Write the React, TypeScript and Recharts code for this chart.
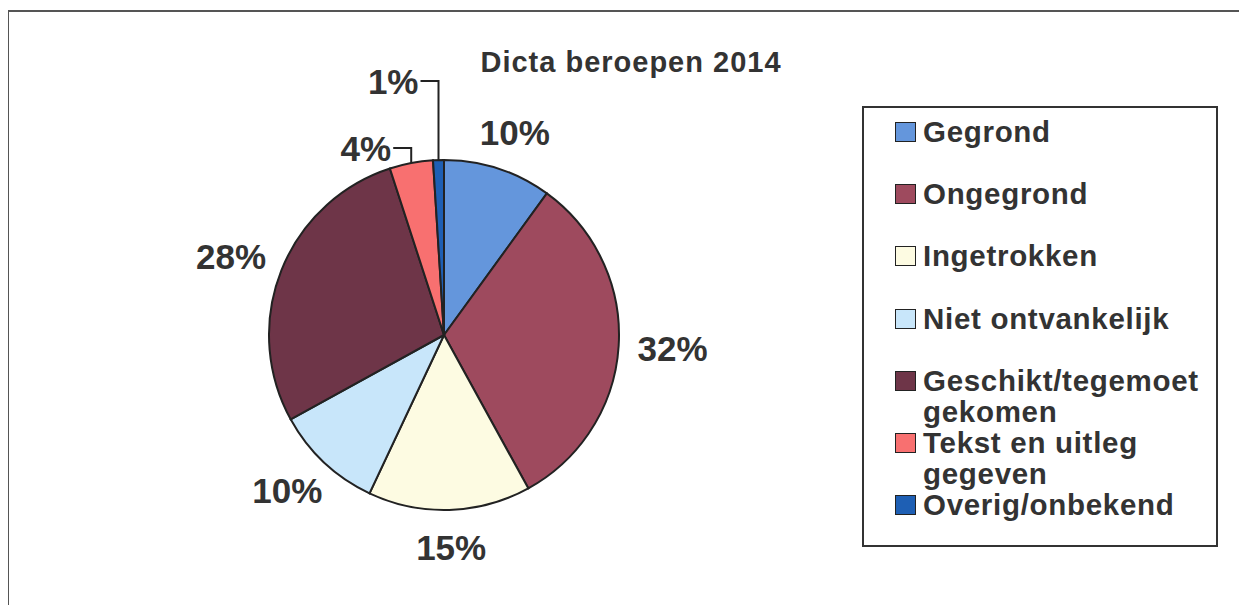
import React from 'react';
import { PieChart, Pie, Cell, Legend, Customized } from 'recharts';

const categories = [
  'Gegrond',
  'Ongegrond',
  'Ingetrokken',
  'Niet ontvankelijk',
  'Geschikt/tegemoet gekomen',
  'Tekst en uitleg gegeven',
  'Overig/onbekend',
];
const values = [10, 32, 15, 10, 28, 4, 1];
const colors = ['#6496dc', '#9e4a5e', '#fdfbe2', '#c8e6fa', '#6e3548', '#f87070', '#1e5fb4'];
const title = 'Dicta beroepen 2014';

const data = categories.map((name, i) => ({ name, value: values[i], color: colors[i] }));

const FONT = '"Liberation Sans", Arial, sans-serif';
const TEXT = '#333333';
const RAD = Math.PI / 180;

const renderLabel = (props: any) => {
  const { cx, cy, midAngle, outerRadius, value, index } = props;
  const cos = Math.cos(-midAngle * RAD);
  const sin = Math.sin(-midAngle * RAD);
  if (value < 5) {
    const ex = cx + outerRadius * cos;
    const ey = cy + outerRadius * sin;
    const rise = index === data.length - 1 ? 79 : 15;
    const ty = ey - rise;
    return (
      <g key={`lbl-${index}`}>
        <path d={`M${ex},${ey}L${ex},${ty}L${ex - 18},${ty}`} stroke="#222" strokeWidth={2} fill="none" />
        <text x={ex - 20} y={ty} textAnchor="end" dominantBaseline="central" fontFamily={FONT} fontWeight="bold" fontSize={35} fill={TEXT}>
          {`${value}%`}
        </text>
      </g>
    );
  }
  const Rx = outerRadius + 54;
  const Ry = outerRadius + 38;
  return (
    <text key={`lbl-${index}`} x={cx + Rx * cos} y={cy + Ry * sin} textAnchor="middle" dominantBaseline="central" fontFamily={FONT} fontWeight="bold" fontSize={35} fill={TEXT}>
      {`${value}%`}
    </text>
  );
};

const LegendBox = () => {
  return (
    <div style={{ position: 'relative', width: '100%', height: '100%' }}>
      {data.map((entry, i) => {
        const center = 24 + i * 62.2;
        return (
          <div key={i} style={{ position: 'absolute', left: 31, top: center - 16, width: 300, display: 'flex', alignItems: 'flex-start' }}>
            <div style={{ width: 19, height: 18, marginTop: 6, border: '1.5px solid #222', background: entry.color, flexShrink: 0 }} />
            <div style={{ marginLeft: 7, width: 285, fontFamily: FONT, fontWeight: 'bold', fontSize: 29.5, lineHeight: '31px', color: TEXT, letterSpacing: 0.7 }}>
              {entry.name}
            </div>
          </div>
        );
      })}
    </div>
  );
};

const Decor = () => (
  <g>
    <rect x={8} y={11} width={1300} height={700} fill="none" stroke="#555" strokeWidth={2} />
    <text x={631} y={72} textAnchor="middle" fontFamily={FONT} fontWeight="bold" fontSize={29} letterSpacing={1.0} fill={TEXT}>
      {title}
    </text>
  </g>
);

export default function App() {
  return (
    <div style={{ margin: -8, width: 1247, height: 613, background: '#fff', overflow: 'hidden' }}>
      <PieChart width={1247} height={613} margin={{ top: 0, right: 0, bottom: 0, left: 0 }}>
        <Customized component={Decor} />
        <Pie
          data={data}
          dataKey="value"
          nameKey="name"
          cx={444}
          cy={335}
          outerRadius={175}
          startAngle={90}
          endAngle={-270}
          stroke="#222"
          strokeWidth={2}
          label={renderLabel}
          labelLine={false}
          isAnimationActive={false}
        >
          {data.map((d, i) => (
            <Cell key={i} fill={d.color} />
          ))}
        </Pie>
        <Legend
          layout="vertical"
          content={LegendBox}
          wrapperStyle={{ left: 862, top: 106, width: 356, height: 441, border: '2px solid #333', boxSizing: 'border-box', background: '#fff' }}
        />
      </PieChart>
    </div>
  );
}
